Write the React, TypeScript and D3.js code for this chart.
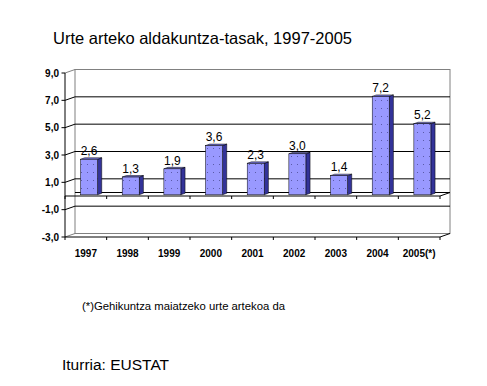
import React from "react";
import * as d3 from "d3";

const categories = ["1997", "1998", "1999", "2000", "2001", "2002", "2003", "2004", "2005(*)"];
const values = [2.6, 1.3, 1.9, 3.6, 2.3, 3.0, 1.4, 7.2, 5.2];
const valueLabels = ["2,6", "1,3", "1,9", "3,6", "2,3", "3,0", "1,4", "7,2", "5,2"];
const yTicks = [-3, -1, 1, 3, 5, 7, 9];
const yTickLabels = ["-3,0", "-1,0", "1,0", "3,0", "5,0", "7,0", "9,0"];
const title = "Urte arteko aldakuntza-tasak, 1997-2005";
const footnote = "(*)Gehikuntza maiatzeko urte artekoa da";
const source = "Iturria: EUSTAT";

const W = 487;
const H = 386;
const FONT = "Arial, 'Liberation Sans', sans-serif";

export default function App() {
  const x0 = 65;
  const x1 = 440;
  const dx = 10;
  const dy = -3.5;
  const y = d3.scaleLinear().domain([-3, 9]).range([237, 73]);
  const band = d3.scaleBand<string>().domain(categories).range([x0, x1]).paddingInner(0).paddingOuter(0);
  const bw = band.bandwidth();
  const y0 = y(0);
  const barW = 17;
  const bfx = 3.2, bfy = -1.2; // bar front offset into depth
  const bdx = 4.2, bdy = -1.5; // bar depth
  const boundaries = d3.range(categories.length + 1).map((i) => x0 + i * bw);
  const gridTicks = yTicks.filter((t) => t !== 9 && t !== -3);

  return (
    <svg width={W} height={H} style={{ position: "absolute", left: 0, top: 0, background: "#fff" }} fontFamily={FONT}>
      <defs>
        <pattern id="dots" width="6" height="8" patternUnits="userSpaceOnUse">
          <rect width="6" height="8" fill="#9999FF" />
          <rect x="3" y="4" width="1" height="1" fill="#5a5aa8" />
        </pattern>
      </defs>
      <text x={53} y={43.5} fontSize={16.5} fill="#000">{title}</text>

      {/* back wall */}
      <rect x={x0 + dx} y={y(9) + dy} width={x1 - x0} height={y(-3) - y(9)} fill="none" stroke="#808080" strokeWidth={1} />
      {/* side wall edges */}
      <line x1={x0} y1={y(9)} x2={x0 + dx} y2={y(9) + dy} stroke="#808080" />
      <line x1={x0} y1={y(-3)} x2={x0 + dx} y2={y(-3) + dy} stroke="#808080" />
      {/* gridlines */}
      {gridTicks.map((t) => (
        <polyline key={t} points={`${x0},${y(t)} ${x0 + dx},${y(t) + dy} ${x1 + dx},${y(t) + dy}`} fill="none" stroke="#000" strokeWidth={1} />
      ))}
      {/* bottom front edge */}
      <polyline points={`${x0},${y(-3)} ${x1},${y(-3)} ${x1 + dx},${y(-3) + dy}`} fill="none" stroke="#000" />
      {/* floor at zero */}
      <line x1={x0 + dx} y1={y0 + dy} x2={x1 + dx} y2={y0 + dy} stroke="#000" />
      <polyline points={`${x0},${y0} ${x1},${y0} ${x1 + dx},${y0 + dy}`} fill="none" stroke="#000" />
      {boundaries.map((bx, i) => (
        <g key={i}>
          <line x1={bx} y1={y0} x2={bx} y2={y0 + 3} stroke="#000" />
          <line x1={bx} y1={y(-3)} x2={bx} y2={y(-3) + 3} stroke="#000" />
        </g>
      ))}
      {/* left axis */}
      <line x1={x0} y1={y(9)} x2={x0} y2={y(-3)} stroke="#000" />
      {yTicks.map((t, i) => (
        <g key={t}>
          <line x1={x0 - 3.5} y1={y(t)} x2={x0} y2={y(t)} stroke="#000" />
          <text x={59} y={y(t)} dy="0.36em" textAnchor="end" fontSize={10} fontWeight="bold">{yTickLabels[i]}</text>
        </g>
      ))}

      {/* bars */}
      {values.map((v, i) => {
        const cx = (band(categories[i]) as number) + bw / 2 + bfx;
        const left = cx - barW / 2;
        const right = cx + barW / 2;
        const top = y(v) + bfy;
        const bottom = y0 + bfy;
        return (
          <g key={categories[i]}>
            <polygon points={`${right},${top} ${right + bdx},${top + bdy} ${right + bdx},${bottom + bdy} ${right},${bottom}`} fill="#333399" stroke="#000" strokeWidth={0.5} />
            <polygon points={`${left},${top} ${left + bdx},${top + bdy} ${right + bdx},${top + bdy} ${right},${top}`} fill="#7777DD" stroke="#000" strokeWidth={0.5} />
            <rect x={left} y={top} width={barW} height={bottom - top} fill="url(#dots)" stroke="#000" strokeWidth={0.5} />
            <text x={cx} y={y(v) - 5.5} textAnchor="middle" fontSize={12} fill="#000">{valueLabels[i]}</text>
          </g>
        );
      })}

      {/* category labels */}
      {categories.map((c) => (
        <text key={c} x={(band(c) as number) + bw / 2} y={256.5} textAnchor="middle" fontSize={10} fontWeight="bold">{c}</text>
      ))}

      <text x={82} y={310} fontSize={10.5} textLength={203} lengthAdjust="spacingAndGlyphs">{footnote}</text>
      <text x={62} y={370} fontSize={15.5}>{source}</text>
    </svg>
  );
}
